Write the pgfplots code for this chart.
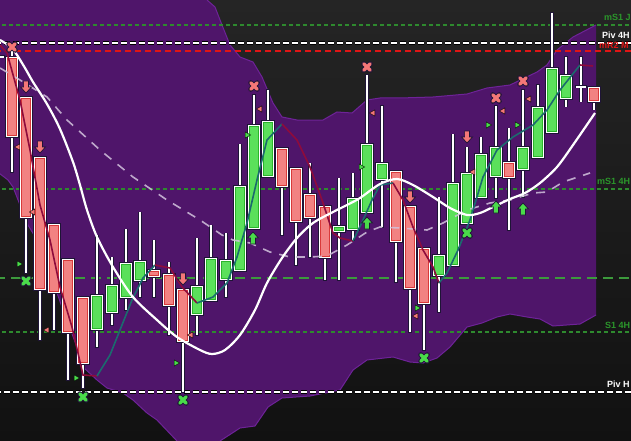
\documentclass[border=0pt]{standalone}
\usepackage{pgfplots}
\pgfplotsset{compat=1.18}
\usepackage{pgfplotstable}
\usepackage{fontspec}
\setmainfont{Liberation Sans}
\definecolor{bgtop}{HTML}{252525}
\definecolor{bgbot}{HTML}{111111}
\definecolor{band}{HTML}{4F156A}
\definecolor{bandedge}{HTML}{6E2398}
\definecolor{wickdark}{HTML}{1E1436}
\definecolor{redfill}{HTML}{F28282}
\definecolor{redborder}{HTML}{D93A3A}
\definecolor{greenfill}{HTML}{5BE05B}
\definecolor{greenborder}{HTML}{2BB52B}
\definecolor{pinkmark}{HTML}{F47777}
\definecolor{greenmark}{HTML}{4ADB4A}
\definecolor{lgreen}{HTML}{2E8A2E}
\definecolor{lgreen2}{HTML}{3C9A3C}
\definecolor{stred}{HTML}{8E0B3C}
\definecolor{stteal}{HTML}{1B6B6E}
\definecolor{lav}{HTML}{D2C2DC}
\definecolor{lblgreen}{HTML}{2B962B}
\definecolor{lblred}{HTML}{E01515}

\pgfdeclareplotmark{darr}{%
  \pgfpathmoveto{\pgfqpoint{-2.4bp}{6bp}}%
  \pgfpathlineto{\pgfqpoint{2.4bp}{6bp}}%
  \pgfpathlineto{\pgfqpoint{2.4bp}{0bp}}%
  \pgfpathlineto{\pgfqpoint{5.5bp}{0bp}}%
  \pgfpathlineto{\pgfqpoint{0bp}{-6bp}}%
  \pgfpathlineto{\pgfqpoint{-5.5bp}{0bp}}%
  \pgfpathlineto{\pgfqpoint{-2.4bp}{0bp}}%
  \pgfpathclose
  \pgfusepathqfillstroke}
\pgfdeclareplotmark{uarr}{%
  \pgfpathmoveto{\pgfqpoint{-2.4bp}{-6bp}}%
  \pgfpathlineto{\pgfqpoint{2.4bp}{-6bp}}%
  \pgfpathlineto{\pgfqpoint{2.4bp}{0bp}}%
  \pgfpathlineto{\pgfqpoint{5.5bp}{0bp}}%
  \pgfpathlineto{\pgfqpoint{0bp}{6bp}}%
  \pgfpathlineto{\pgfqpoint{-5.5bp}{0bp}}%
  \pgfpathlineto{\pgfqpoint{-2.4bp}{0bp}}%
  \pgfpathclose
  \pgfusepathqfillstroke}

\pgfplotsset{
  ebar/.style 2 args={draw=none, mark=none, forget plot,
    /pgfplots/error bars/y dir=plus,
    /pgfplots/error bars/y explicit,
    /pgfplots/error bars/error mark=none,
    /pgfplots/error bars/error bar style={draw=#1, line width=#2, solid, line cap=butt}},
}
\tikzset{lbl/.style={anchor=west, inner sep=0pt, font=\bfseries\fontsize{9bp}{11bp}\selectfont}}

% candles: pixel-y values (top/bot of body, hi/lo of wick)
\pgfplotstableread{
x top bot hi lo
12 57 137 50 172
26 97 218 97 273
40 157 290 157 340
54 224 293 224 330
68 259 333 259 380
83 297 364 297 388
154 270 277 240 297
169 274 306 262 335
183 289 342 289 392
282 148 187 148 235
296 168 222 168 265
310 194 218 163 257
325 206 258 206 280
396 171 242 171 282
410 206 289 206 332
424 248 304 248 350
509 162 178 128 230
594 87 102 87 110
}\redc
\pgfplotstableread{
x top bot hi lo
97 295 330 235 347
112 285 313 257 325
126 263 298 229 310
140 261 281 212 297
197 286 315 238 335
211 258 301 225 301
226 260 280 233 297
240 186 271 144 271
254 125 229 95 229
268 121 177 90 177
339 226 232 178 280
353 198 230 173 240
367 144 213 75 213
382 163 180 106 227
439 255 276 197 312
453 183 266 134 266
467 173 224 147 224
481 154 198 137 198
496 147 177 106 198
523 147 170 90 197
538 107 158 85 158
552 68 133 13 133
566 75 99 57 107
}\greenc
\pgfplotstableread{
x mid hi lo
581 87 57 102
-1 57 57 57
}\dojic

\begin{document}
\begin{tikzpicture}
\useasboundingbox (0,0) rectangle (631bp,441bp);
\shade[top color=bgtop, bottom color=bgbot] (0,0) rectangle (631bp,441bp);
\begin{axis}[at={(0,0)}, anchor=south west, scale only axis,
  width=631bp, height=441bp, xmin=0, xmax=631, ymin=0, ymax=441,
  y dir=reverse, hide axis, clip=true]

% band
\addplot[fill=band, draw=none] coordinates {
(-5,-10) (205,-10) (207,0) (215,7) (222,25) (230,45) (240,57) (253,62) (262,77)
(273,103) (282,117) (297,120) (323,120) (337,112) (352,113) (367,100) (380,98)
(400,98) (433,97) (467,94) (487,88) (510,85) (537,72) (547,65) (557,50) (573,37)
(596,25) (596,315) (580,324) (553,326) (540,319) (527,317) (510,314) (497,317)
(482,323) (467,327) (450,347) (437,358) (423,363) (410,362) (393,357) (367,360)
(353,370) (340,390) (310,396) (282,398) (268,407) (255,426) (240,428) (220,441)
(210,452) (185,452) (177,441) (157,420) (147,413) (133,400) (123,393) (107,388)
(97,380) (83,367) (77,347) (63,310) (50,273) (37,240) (25,220) (20,205) (13,187)
(8,180) (-5,170)} -- cycle;
\addplot[bandedge, line width=1bp] coordinates {
(207,0) (215,7) (222,25) (230,45) (240,57) (253,62) (262,77)
(273,103) (282,117) (297,120) (323,120) (337,112) (352,113) (367,100) (380,98)
(400,98) (433,97) (467,94) (487,88) (510,85) (537,72) (547,65) (557,50) (573,37) (596,25)};
\addplot[bandedge, line width=1bp] coordinates {
(596,315) (580,324) (553,326) (540,319) (527,317) (510,314) (497,317)
(482,323) (467,327) (450,347) (437,358) (423,363) (410,362) (393,357) (367,360)
(353,370) (340,390) (310,396) (282,398) (268,407) (255,426) (240,428) (220,441)};
\addplot[bandedge, line width=1bp] coordinates {
(177,441) (157,420) (147,413) (133,400) (123,393) (107,388)
(97,380) (83,367) (77,347) (63,310) (50,273) (37,240) (25,220) (20,205) (13,187)
(8,180) (-5,170)};

% horizontal levels
\addplot[lgreen, line width=1.2bp, dash pattern=on 4bp off 3bp] coordinates {(-5,25) (640,25)};
\addplot[black, line width=3.5bp, dash pattern=on 6bp off 3bp] coordinates {(-5,43) (640,43)};
\addplot[white, line width=2bp, dash pattern=on 6bp off 3bp] coordinates {(-5,43) (640,43)};
\addplot[lblred, line width=2bp, dash pattern=on 6bp off 4bp] coordinates {(-5,51) (640,51)};
\addplot[lgreen, line width=1.2bp, dash pattern=on 4bp off 3bp] coordinates {(-5,189) (640,189)};
\addplot[lgreen2, line width=1.6bp, dash pattern=on 10bp off 6bp] coordinates {(-5,278) (640,278)};
\addplot[lgreen, line width=1.2bp, dash pattern=on 4bp off 3bp] coordinates {(-5,332) (640,332)};
\addplot[black, line width=3.5bp, dash pattern=on 6bp off 3bp] coordinates {(-5,392) (640,392)};
\addplot[white, line width=2bp, dash pattern=on 6bp off 3bp] coordinates {(-5,392) (640,392)};

% wicks
\addplot[ebar={wickdark}{3.4bp}] table[x=x, y expr=\thisrow{hi}-0.5, y error plus expr=\thisrow{lo}-\thisrow{hi}+1] {\redc};
\addplot[ebar={wickdark}{3.4bp}] table[x=x, y expr=\thisrow{hi}-0.5, y error plus expr=\thisrow{lo}-\thisrow{hi}+1] {\greenc};
\addplot[ebar={wickdark}{3.4bp}] table[x=x, y expr=\thisrow{hi}-0.5, y error plus expr=\thisrow{lo}-\thisrow{hi}+1] {\dojic};
\addplot[ebar={white}{1.6bp}] table[x=x, y=hi, y error plus expr=\thisrow{lo}-\thisrow{hi}] {\redc};
\addplot[ebar={white}{1.6bp}] table[x=x, y=hi, y error plus expr=\thisrow{lo}-\thisrow{hi}] {\greenc};
\addplot[ebar={white}{1.6bp}] table[x=x, y=hi, y error plus expr=\thisrow{lo}-\thisrow{hi}] {\dojic};
\addplot[ebar={wickdark}{12bp}] table[x=x, y expr=\thisrow{mid}-1.5, y error plus expr=3] {\dojic};
\addplot[ebar={white}{10bp}] table[x=x, y expr=\thisrow{mid}-0.8, y error plus expr=1.6] {\dojic};

% bodies
\addplot[ebar={wickdark}{13.4bp}] table[x=x, y expr=\thisrow{top}-0.8, y error plus expr=\thisrow{bot}-\thisrow{top}+1.6] {\redc};
\addplot[ebar={wickdark}{13.4bp}] table[x=x, y expr=\thisrow{top}-0.8, y error plus expr=\thisrow{bot}-\thisrow{top}+1.6] {\greenc};
\addplot[ebar={white}{11.8bp}] table[x=x, y=top, y error plus expr=\thisrow{bot}-\thisrow{top}] {\redc};
\addplot[ebar={white}{11.8bp}] table[x=x, y=top, y error plus expr=\thisrow{bot}-\thisrow{top}] {\greenc};
\addplot[ebar={redborder}{9.6bp}] table[x=x, y expr=\thisrow{top}+1.1, y error plus expr=\thisrow{bot}-\thisrow{top}-2.2] {\redc};
\addplot[ebar={greenborder}{9.6bp}] table[x=x, y expr=\thisrow{top}+1.1, y error plus expr=\thisrow{bot}-\thisrow{top}-2.2] {\greenc};
\addplot[ebar={redfill}{8.2bp}] table[x=x, y expr=\thisrow{top}+1.8, y error plus expr=\thisrow{bot}-\thisrow{top}-3.6] {\redc};
\addplot[ebar={greenfill}{8.2bp}] table[x=x, y expr=\thisrow{top}+1.8, y error plus expr=\thisrow{bot}-\thisrow{top}-3.6] {\greenc};

% dashed average
\addplot[lav, opacity=0.85, line width=1.6bp, dash pattern=on 9bp off 8bp] coordinates {
(0,68) (20,80) (47,97) (67,120) (100,150) (133,177) (167,200) (200,220) (222,235)
(233,240) (250,243) (270,252) (290,257) (310,257) (327,256) (347,245) (367,232)
(380,227) (400,228) (427,230) (443,223) (467,210) (490,203) (510,200) (533,193)
(547,192) (563,182) (590,173)};

% trend line segments
\addplot[stred, line width=1.6bp] coordinates {(0,45) (7,53) (20,100) (30,150) (40,205) (50,240) (60,287) (72,327) (83,375) (97,376)};
\addplot[stteal, line width=1.6bp] coordinates {(97,376) (110,355) (122,325) (132,300) (143,278) (155,265)};
\addplot[stred, line width=1.6bp] coordinates {(155,265) (170,268) (182,287) (197,303)};
\addplot[stteal, line width=1.6bp] coordinates {(197,303) (213,297) (227,283) (237,257) (247,223) (257,180) (267,140) (282,124)};
\addplot[stred, line width=1.6bp] coordinates {(282,124) (297,140) (310,167) (322,200) (333,233) (340,238) (353,241)};
\addplot[stteal, line width=1.6bp] coordinates {(353,241) (363,220) (372,200) (380,185) (393,183)};
\addplot[stred, line width=1.6bp] coordinates {(393,183) (403,200) (413,227) (423,250) (433,267) (439,283)};
\addplot[stteal, line width=1.6bp] coordinates {(439,283) (447,273) (458,250) (470,220) (483,177) (497,150) (513,137) (533,125) (547,110) (560,90) (580,65)};
\addplot[stred, line width=1.6bp] coordinates {(580,65) (593,66)};

% white moving average
\addplot[white, line width=2.2bp, smooth] coordinates {
(0,40) (8,45) (15,52) (25,68) (33,82) (47,104) (60,129) (73,162) (80,185) (87,210)
(97,237) (113,267) (133,297) (157,320) (177,337) (200,350) (212,354) (225,350)
(240,335) (255,310) (267,283) (282,258) (297,238) (313,223) (333,212) (347,205)
(360,198) (380,184) (397,179) (413,185) (433,197) (450,208) (467,215) (480,213)
(493,207) (510,199) (525,193) (540,183) (557,167) (573,145) (595,113)};

% markers: crosses
\addplot[only marks, mark=x, mark size=4.6bp, line width=5bp, line cap=round, color=wickdark] coordinates {
(12,47) (254,86) (367,67) (496,98) (523,81) (26,281) (83,397) (183,400) (424,358) (467,233)};
\addplot[only marks, mark=x, mark size=4.4bp, line width=3.4bp, line cap=round, color=pinkmark] coordinates {
(12,47) (254,86) (367,67) (496,98) (523,81)};
\addplot[only marks, mark=x, mark size=4.4bp, line width=3.4bp, line cap=round, color=greenmark] coordinates {
(26,281) (83,397) (183,400) (424,358) (467,233)};
% arrows
\addplot[only marks, mark=darr, draw=wickdark, fill=pinkmark, line width=0.7bp] coordinates {
(26,87) (40,147) (183,279) (410,197) (467,137)};
\addplot[only marks, mark=uarr, draw=wickdark, fill=greenmark, line width=0.7bp] coordinates {
(253,238) (367,223) (496,207) (523,209)};
% small triangles
\addplot[only marks, mark=triangle*, mark size=3.6bp, mark options={rotate=-90, fill=greenmark, draw=none}] coordinates {
(19,264) (76,378) (176,363) (247,135) (361,167) (488,125) (517,125) (417,308)};
\addplot[only marks, mark=triangle*, mark size=3.6bp, mark options={rotate=90, fill=pinkmark, draw=none}] coordinates {
(18,147) (33,212) (47,330) (191,335) (260,109) (373,113) (473,172) (503,111) (529,99) (416,316)};

% level labels
\node[lbl, text=lblgreen] at (axis cs:604,17) {mS1 J};
\node[lbl, text=white] at (axis cs:602,35) {Piv 4H};
\node[lbl, text=lblred] at (axis cs:599,45) {mR2 M};
\node[lbl, text=lblgreen] at (axis cs:597,181) {mS1 4H};
\node[lbl, text=lblgreen] at (axis cs:605,325) {S1 4H};
\node[lbl, text=white] at (axis cs:607,384) {Piv H};
\end{axis}
\end{tikzpicture}
\end{document}
